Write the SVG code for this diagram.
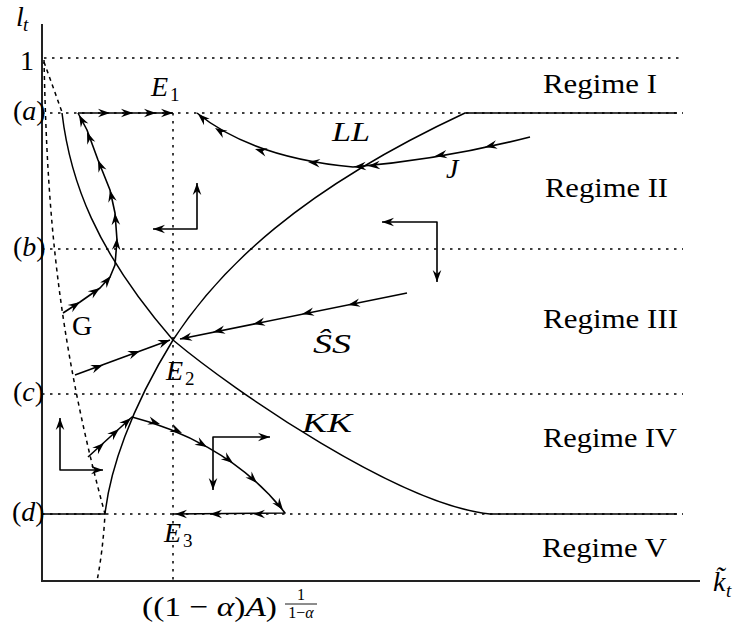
<svg xmlns="http://www.w3.org/2000/svg" width="741" height="633" viewBox="0 0 741 633">
<style>
.ax{stroke:#222;stroke-width:2;fill:none}
.cv{stroke:#000;stroke-width:1.5;fill:none}
.tr{stroke:#000;stroke-width:1.6;fill:none;stroke-linejoin:round}
.dot{stroke:#000;stroke-width:1.5;stroke-dasharray:2.5 5.5;fill:none}
.dash{stroke:#000;stroke-width:1.5;stroke-dasharray:4 4;fill:none}
.t{font-family:'Liberation Serif','Times New Roman',serif;font-size:28px;fill:#000}
.s{font-size:19px}
.f{font-size:16px}
.i{font-style:italic}
</style>
<defs>
<path id="ah" d="M0,0 L-12,-4.3 L-8,0 L-12,4.3 Z" fill="#000"/>
</defs>
<rect width="741" height="633" fill="#fff"/>

<g id="grid">
<path class="dot" d="M44,58 H683"/>
<path class="dot" d="M42,113 H683"/>
<path class="dot" d="M42,249 H683"/>
<path class="dot" d="M42,394 H683"/>
<path class="dot" d="M42,514 H683"/>
<path class="dot" d="M173,113 V581"/>
</g>

<g id="axes">
<path class="ax" d="M42,24 V581 H700"/>
</g>

<g id="curves">
<path id="LL" class="cv" d="M42,514 H105 C110,470 130,410 173,340 C220,268 300,190 465,113 H677"/>
<path id="KK" class="cv" d="M62,113 C70,180 95,250 173,340 C235,392 400,505 490,514 H677"/>
<path id="boundary" class="dash" d="M44,60 C47,200 55,330 105,514 Q103,550 97,581"/>
<path class="dash" d="M44,62 L62,112"/>
</g>

<g id="connectors">
<path class="tr" d="M78,113 H173"/>
<path class="tr" d="M63,313 L80,302 L100,288 L110,277 L115,265 L117,240 L115,213 L110,190 L98,160 L87,130 L78,113"/>
<path class="tr" d="M530,137 Q440,160 353,167 C300,162 240,148 197,113"/>
<path class="tr" d="M407,293 L180,339"/>
<path class="tr" d="M75,375 L170,340"/>
<path class="tr" d="M88,457 L132,417 C175,428 240,455 285,513 L173,514"/>
<path class="tr" d="M197,183 V229 H153"/>
<path class="tr" d="M382,222 H437 V282"/>
<path class="tr" d="M60,418 V470 H103"/>
<path class="tr" d="M270,437 H213 V490"/>

<use href="#ah" transform="translate(110,113)"/>
<use href="#ah" transform="translate(133,113)"/>
<use href="#ah" transform="translate(156,113)"/>
<use href="#ah" transform="translate(173,113)"/>

<use href="#ah" transform="translate(80,302) rotate(-33)"/>
<use href="#ah" transform="translate(100,288) rotate(-35)"/>
<use href="#ah" transform="translate(111,276) rotate(-50)"/>
<use href="#ah" transform="translate(117,238) rotate(-86)"/>
<use href="#ah" transform="translate(115,213) rotate(-94)"/>
<use href="#ah" transform="translate(110,190) rotate(-102)"/>
<use href="#ah" transform="translate(98,160) rotate(-112)"/>
<use href="#ah" transform="translate(87,132) rotate(-111)"/>
<use href="#ah" transform="translate(79,115) rotate(-118)"/>

<use href="#ah" transform="translate(485,147) rotate(168)"/>
<use href="#ah" transform="translate(435,156) rotate(171)"/>
<use href="#ah" transform="translate(368,166) rotate(175)"/>
<use href="#ah" transform="translate(354,167) rotate(175)"/>
<use href="#ah" transform="translate(308,162) rotate(186)"/>
<use href="#ah" transform="translate(255,149) rotate(196)"/>
<use href="#ah" transform="translate(215,128) rotate(212)"/>
<use href="#ah" transform="translate(198,114) rotate(222)"/>

<use href="#ah" transform="translate(348,305) rotate(168.5)"/>
<use href="#ah" transform="translate(302,314) rotate(168.5)"/>
<use href="#ah" transform="translate(253,324) rotate(168.5)"/>
<use href="#ah" transform="translate(213,332) rotate(168.5)"/>
<use href="#ah" transform="translate(180,339) rotate(168.5)"/>

<use href="#ah" transform="translate(103,365) rotate(-20)"/>
<use href="#ah" transform="translate(140,351) rotate(-20)"/>
<use href="#ah" transform="translate(170,340) rotate(-20)"/>

<use href="#ah" transform="translate(104,443) rotate(-42)"/>
<use href="#ah" transform="translate(119,429) rotate(-42)"/>
<use href="#ah" transform="translate(131,418) rotate(-42)"/>
<use href="#ah" transform="translate(160,424) rotate(17)"/>
<use href="#ah" transform="translate(182,433) rotate(25)"/>
<use href="#ah" transform="translate(207,447) rotate(30)"/>
<use href="#ah" transform="translate(233,463) rotate(37)"/>
<use href="#ah" transform="translate(257,483) rotate(45)"/>
<use href="#ah" transform="translate(283,510) rotate(53)"/>
<use href="#ah" transform="translate(253,514) rotate(180)"/>
<use href="#ah" transform="translate(210,514) rotate(180)"/>
<use href="#ah" transform="translate(175,514) rotate(180)"/>

<use href="#ah" transform="translate(197,183) rotate(-90)"/>
<use href="#ah" transform="translate(153,229) rotate(180)"/>
<use href="#ah" transform="translate(382,222) rotate(180)"/>
<use href="#ah" transform="translate(437,282) rotate(90)"/>
<use href="#ah" transform="translate(60,418) rotate(-90)"/>
<use href="#ah" transform="translate(103,470)"/>
<use href="#ah" transform="translate(270,437)"/>
<use href="#ah" transform="translate(213,490) rotate(90)"/>
</g>

<g id="labels" class="t">
<text x="16" y="26"><tspan class="i">l</tspan><tspan class="s i" x="23" y="31">t</tspan></text>
<text x="20" y="70">1</text>
<text x="13" y="120">(<tspan class="i">a</tspan>)</text>
<text x="13" y="256">(<tspan class="i">b</tspan>)</text>
<text x="13" y="401">(<tspan class="i">c</tspan>)</text>
<text x="12" y="521">(<tspan class="i">d</tspan>)</text>
<text x="151" y="96"><tspan class="i">E</tspan><tspan class="s" x="170" y="101">1</tspan></text>
<text x="166" y="380"><tspan class="i">E</tspan><tspan class="s" x="185" y="385">2</tspan></text>
<text x="164" y="542"><tspan class="i">E</tspan><tspan class="s" x="183" y="547">3</tspan></text>
<text x="72" y="335">G</text>
<text class="i" x="332" y="141" textLength="38" lengthAdjust="spacingAndGlyphs">LL</text>
<text class="i" x="446" y="178">J</text>
<text class="i" x="313" y="353" textLength="38" lengthAdjust="spacingAndGlyphs">ŜS</text>
<text class="i" x="302" y="432" textLength="50" lengthAdjust="spacingAndGlyphs">KK</text>
<text x="543" y="93" textLength="114" lengthAdjust="spacingAndGlyphs">Regime I</text>
<text x="545" y="197" textLength="123" lengthAdjust="spacingAndGlyphs">Regime II</text>
<text x="543" y="328" textLength="135" lengthAdjust="spacingAndGlyphs">Regime III</text>
<text x="543" y="447" textLength="134" lengthAdjust="spacingAndGlyphs">Regime IV</text>
<text x="542" y="557" textLength="125" lengthAdjust="spacingAndGlyphs">Regime V</text>
<text x="713" y="591"><tspan class="i">k̃</tspan><tspan class="s i" x="726" y="597">t</tspan></text>
<text x="142" y="616" textLength="135" lengthAdjust="spacingAndGlyphs">((1 − <tspan class="i">α</tspan>)<tspan class="i">A</tspan>)</text>
<text class="f" x="301" y="600" text-anchor="middle">1</text>
<text class="f" x="301" y="618" text-anchor="middle">1−<tspan class="i">α</tspan></text>
</g>
<path d="M285,604 H317" stroke="#000" stroke-width="0.9"/>
</svg>
